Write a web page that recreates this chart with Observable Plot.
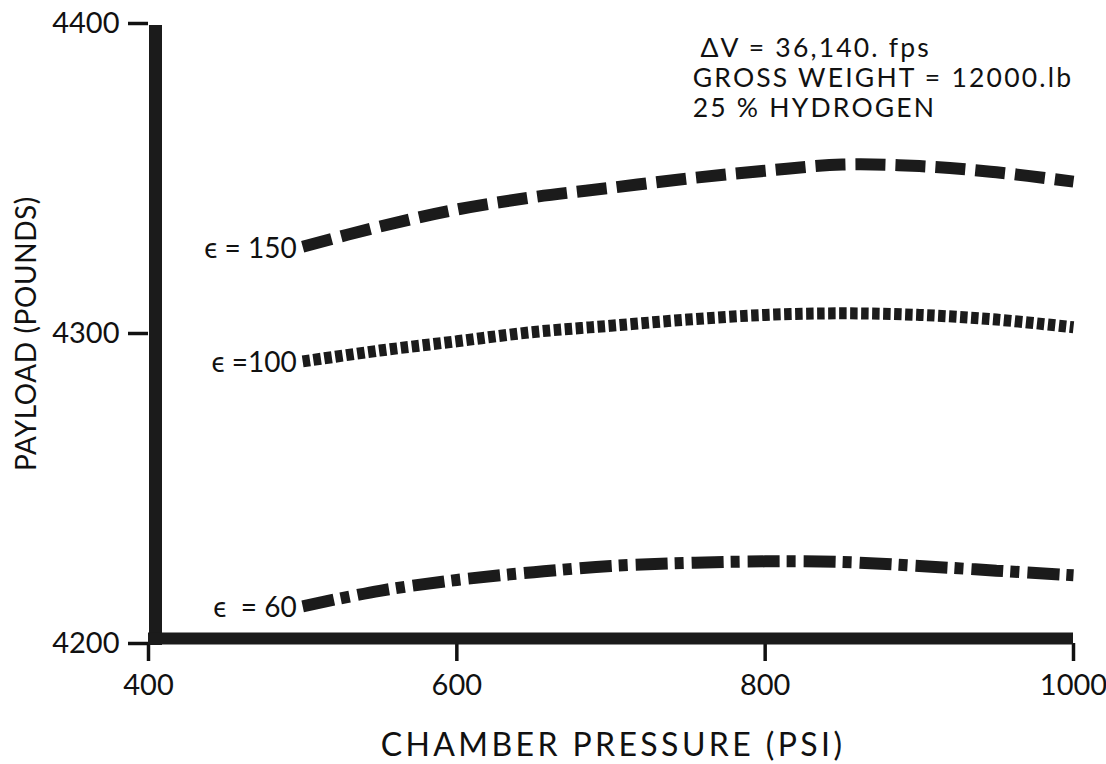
<!DOCTYPE html>
<html>
<head>
<meta charset="utf-8">
<script src="https://cdn.jsdelivr.net/npm/d3@7"></script>
<script src="https://cdn.jsdelivr.net/npm/@observablehq/plot@0.6"></script>
<style>
  html, body { margin: 0; padding: 0; background: #fff; }
  .xt text { letter-spacing: 3.4px; }
  .yt text { letter-spacing: 0.6px; }
  .notes text { letter-spacing: 2.2px; }
</style>
</head>
<body>
<div id="chart"></div>
<script>
// Chamber pressure (psi)
const pressure = [500, 550, 600, 650, 700, 750, 800, 850, 900, 950, 1000];
// Payload (lb) for each expansion ratio
const eps150 = [4328, 4334.5, 4340, 4344, 4347, 4350, 4352.5, 4354.5, 4354, 4352, 4349];
const eps100 = [4291, 4294.5, 4297.5, 4300.5, 4302.5, 4304.5, 4306, 4306.5, 4306, 4304.5, 4302];
const eps60  = [4212, 4217, 4220.5, 4223, 4225, 4226, 4226.5, 4226.3, 4225, 4223.5, 4222];
const seriesNames = ["ϵ = 150", "ϵ =100", "ϵ  = 60"];
const xTicks = [400, 600, 800, 1000];
const yTicks = [4200, 4300, 4400];
const xTitle = "CHAMBER PRESSURE (PSI)";
const yTitle = "PAYLOAD (POUNDS)";
const notes = ["ΔV = 36,140. fps", "GROSS WEIGHT = 12000.lb", "25 % HYDROGEN"];

const toRows = (vals, name) => pressure.map((p, i) => ({p, v: vals[i], name}));
const s150 = toRows(eps150, seriesNames[0]);
const s100 = toRows(eps100, seriesNames[1]);
const s60 = toRows(eps60, seriesNames[2]);
const starts = [s150[0], s100[0], s60[0]];

const ink = "#1b1b1b";
const font = "Lato, 'Open Sans', sans-serif";
const lineOpts = {x: "p", y: "v", curve: "catmull-rom", stroke: ink, strokeWidth: 12, strokeLinecap: "butt", strokeLinejoin: "miter"};

const chart = Plot.plot({
  width: 1106,
  height: 764,
  marginLeft: 148,
  marginRight: 33,
  marginTop: 23,
  marginBottom: 121,
  style: {fontFamily: font, color: "#111", background: "#fff"},
  x: {domain: [400, 1000]},
  y: {domain: [4200, 4400]},
  marks: [
    Plot.axisX({
      ticks: xTicks, tickSize: 18, tickPadding: 13, strokeWidth: 3.5, fontSize: 29,
      tickFormat: d => String(d), label: null
    }),
    Plot.axisY({
      ticks: yTicks, tickSize: 20, tickPadding: 9, strokeWidth: 3.5, fontSize: 29,
      tickFormat: d => String(d), label: null
    }),
    Plot.text([xTitle], {className: "xt", frameAnchor: "bottom", textAnchor: "middle", dx: 2, dy: 112, text: d => d, fontSize: 32, fill: "#111"}),
    Plot.text([yTitle], {className: "yt", frameAnchor: "left", textAnchor: "middle", dx: -121, rotate: -90, text: d => d, fontSize: 28, fill: "#111"}),
    Plot.ruleX([400], {y1: 4200, y2: 4400, stroke: ink, strokeWidth: 13, dx: 7, dy: 2}),
    Plot.ruleY([4200], {x1: 400, x2: 1000, stroke: ink, strokeWidth: 12, dy: -5}),
    Plot.lineY(s150, {...lineOpts, strokeDasharray: "30,10"}),
    Plot.lineY(s100, {...lineOpts, strokeDasharray: "7.5,3.5"}),
    Plot.lineY(s60, {...lineOpts, strokeDasharray: "32,7,9,8"}),
    Plot.text(starts, {x: "p", y: "v", text: "name", textAnchor: "end", dx: -6, dy: 2, fontSize: 28, fill: "#111"}),
    Plot.text(notes, {
      className: "notes",
      x: [758, 753, 753], y: [4392, 4382.3, 4372.6],
      text: d => d, textAnchor: "start", fontSize: 26.5, fill: "#111"
    })
  ]
});
document.getElementById("chart").appendChild(chart);
</script>
</body>
</html>
